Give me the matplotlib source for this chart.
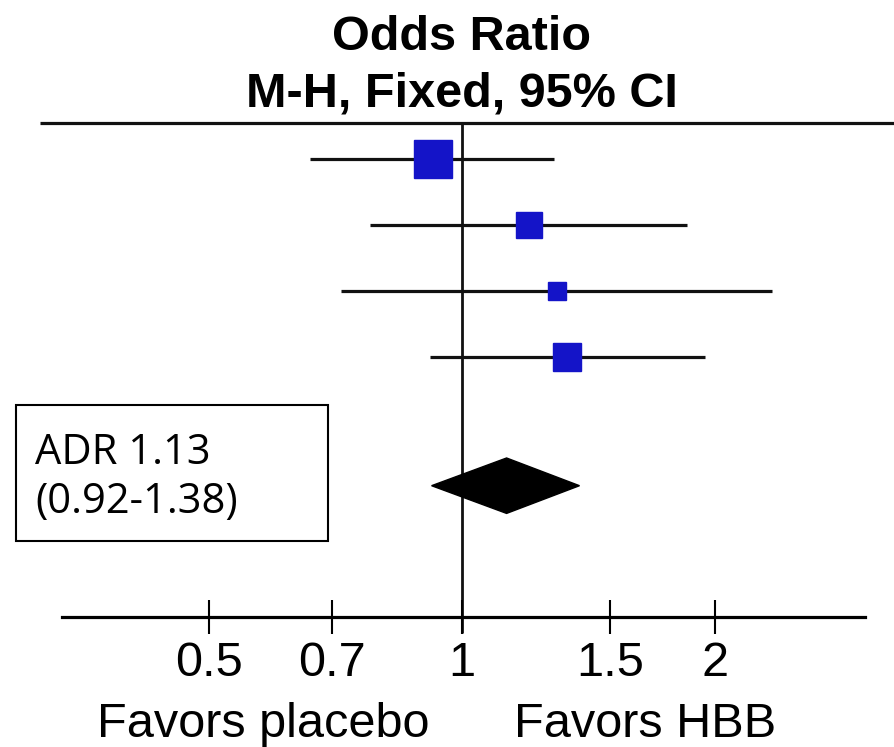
import numpy as np
import matplotlib
matplotlib.use('Agg')
import matplotlib.pyplot as plt
from matplotlib.patches import Rectangle, Polygon

# Study-level odds ratios (M-H, fixed) with 95% CI and weights (%)
study_or = [0.924, 1.20, 1.297, 1.334]
ci_low = [0.659, 0.777, 0.718, 0.916]
ci_high = [1.287, 1.853, 2.34, 1.946]
weights = [43.3, 21.8, 9.7, 25.2]

# Pooled estimate
pooled_or = 1.13
pooled_low = 0.92
pooled_high = 1.38

tick_values = [0.5, 0.7, 1, 1.5, 2]
tick_labels = ['0.5', '0.7', '1', '1.5', '2']

W, H = 894, 747
DPI = 100
PX_PER_DEC = 840.0
X_ONE = 462.0          # pixel of OR = 1
ROW0 = 159.0           # pixel of first study row
ROW_STEP = 66.0        # pixels between rows


def px_to_or(px):
    return 10 ** ((px - X_ONE) / PX_PER_DEC)


def px_to_row(py):
    return (py - ROW0) / ROW_STEP


plt.rcParams['font.family'] = ['Liberation Sans', 'DejaVu Sans']

fig = plt.figure(figsize=(W / DPI, H / DPI), dpi=DPI, facecolor='white')
ax = fig.add_axes([0, 0, 1, 1])
ax.set_xscale('log')
ax.set_xlim(px_to_or(0), px_to_or(W))
ax.set_ylim(px_to_row(H), px_to_row(0))

blue = '#1414C8'
rows = np.arange(len(study_or))

# CI lines and weighted squares
ax.hlines(rows, ci_low, ci_high, color='#111111', lw=2.3, zorder=2)
side_px = 5.77 * np.sqrt(weights)
for r, o, s in zip(rows, study_or, side_px):
    ax.plot(o, r, marker='s', ms=s * 72 / DPI, color=blue, mec=blue, zorder=3)

# pooled diamond
diamond_row = 4.95
half_h = 0.42
ax.add_patch(Polygon([(pooled_low, diamond_row), (pooled_or, diamond_row - half_h),
                      (pooled_high, diamond_row), (pooled_or, diamond_row + half_h)],
                     closed=True, fc='black', ec='black', zorder=3))

# line of no effect
axis_row = 6.94
ax.vlines(1, px_to_row(123), px_to_row(633), color='#111111', lw=2.0, zorder=1)
# header rule
ax.hlines(px_to_row(123), px_to_or(40), px_to_or(W), color='#111111', lw=2.3)

# x axis
for side in ['top', 'left', 'right']:
    ax.spines[side].set_visible(False)
ax.spines['bottom'].set_position(('data', axis_row))
ax.spines['bottom'].set_bounds(px_to_or(62), px_to_or(865))
ax.spines['bottom'].set_linewidth(2.3)
ax.set_yticks([])
ax.set_xticks(tick_values)
ax.set_xticklabels(tick_labels)
ax.xaxis.set_minor_locator(matplotlib.ticker.NullLocator())
ax.tick_params(axis='x', direction='inout', length=24, width=1.5,
               labelsize=35, pad=5)

ax.text(px_to_or(263), px_to_row(737), 'Favors placebo', fontsize=35,
        ha='center', va='baseline')
ax.text(px_to_or(645), px_to_row(737), 'Favors HBB', fontsize=35,
        ha='center', va='baseline')

# titles
ax.text(1, px_to_row(50), 'Odds Ratio', fontsize=35, fontweight='bold',
        ha='center', va='baseline')
ax.text(1, px_to_row(106), 'M-H, Fixed, 95% CI', fontsize=35, fontweight='bold',
        ha='center', va='baseline')

# summary box
ax.add_patch(Rectangle((16 / W, 1 - 541 / H), 312 / W, 136 / H,
                       transform=ax.transAxes, fc='white', ec='black', lw=1.5,
                       zorder=4))
box_font = ['Open Sans', 'DejaVu Sans']
ax.text(35 / W, 1 - 464 / H, f'ADR {pooled_or:.2f}', transform=ax.transAxes,
        fontsize=30, family=box_font, va='baseline', zorder=5)
ax.text(35 / W, 1 - 513 / H, f'({pooled_low:.2f}-{pooled_high:.2f})',
        transform=ax.transAxes, fontsize=30, family=box_font,
        va='baseline', zorder=5)

fig.savefig('out.png', dpi=DPI, facecolor='white')
